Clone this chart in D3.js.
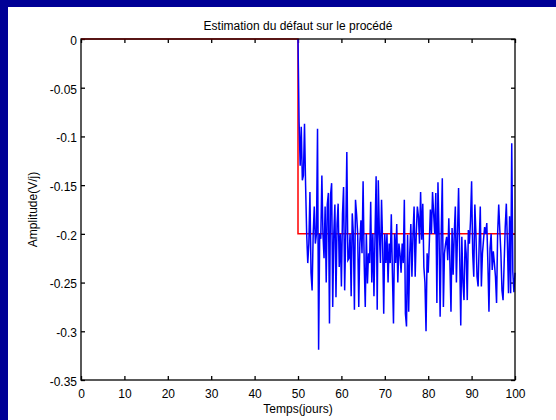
<!DOCTYPE html>
<html>
<head>
<meta charset="utf-8">
<script src="https://cdn.jsdelivr.net/npm/d3@7"></script>
<style>
  body { margin: 0; background: #000096; }
  text { font-family: "Liberation Sans", Arial, sans-serif; fill: #000; }
</style>
</head>
<body>
<div id="chart"></div>
<script>
// fault injected on the process (red)
const faultTimes = [0, 50, 50, 100];
const faultValues = [0, 0, -0.2, -0.2];

// estimated fault (blue): one value every 0.25 day from t=50 to t=100
const estStart = 50;
const estStep = 0.25;
const estValues = [
  0, -0.085, -0.13, -0.09, -0.145, -0.14, -0.087, -0.15, -0.2, -0.23,
  -0.21, -0.157, -0.24, -0.258, -0.2, -0.172, -0.21, -0.2, -0.092, -0.319,
  -0.2, -0.205, -0.14, -0.2, -0.225, -0.172, -0.25, -0.17, -0.158, -0.292,
  -0.16, -0.148, -0.275, -0.2, -0.17, -0.265, -0.19, -0.169, -0.234, -0.2,
  -0.254, -0.18, -0.152, -0.258, -0.2, -0.116, -0.227, -0.225, -0.2, -0.264,
  -0.179, -0.2, -0.278, -0.165, -0.18, -0.2, -0.275, -0.21, -0.186, -0.22,
  -0.146, -0.23, -0.275, -0.2, -0.251, -0.22, -0.23, -0.167, -0.25, -0.2,
  -0.264, -0.2, -0.141, -0.278, -0.145, -0.2, -0.23, -0.165, -0.21, -0.282,
  -0.2, -0.23, -0.2, -0.25, -0.21, -0.23, -0.18, -0.24, -0.292, -0.2,
  -0.23, -0.19, -0.25, -0.21, -0.22, -0.24, -0.21, -0.23, -0.165, -0.282,
  -0.295, -0.201, -0.28, -0.22, -0.19, -0.244, -0.2, -0.172, -0.244, -0.2,
  -0.172, -0.182, -0.21, -0.157, -0.206, -0.169, -0.234, -0.25, -0.3, -0.22,
  -0.24, -0.21, -0.175, -0.2, -0.157, -0.179, -0.2, -0.158, -0.271, -0.147,
  -0.2, -0.285, -0.2, -0.143, -0.275, -0.22, -0.21, -0.203, -0.227, -0.184,
  -0.23, -0.28, -0.194, -0.242, -0.2, -0.172, -0.25, -0.2, -0.153, -0.22,
  -0.294, -0.203, -0.25, -0.268, -0.206, -0.22, -0.268, -0.196, -0.21, -0.186,
  -0.146, -0.22, -0.244, -0.17, -0.2, -0.244, -0.254, -0.21, -0.172, -0.254,
  -0.22, -0.206, -0.193, -0.2, -0.189, -0.23, -0.28, -0.215, -0.2, -0.237,
  -0.218, -0.23, -0.244, -0.271, -0.2, -0.17, -0.196, -0.22, -0.258, -0.268,
  -0.23, -0.193, -0.169, -0.21, -0.261, -0.182, -0.261, -0.107, -0.239, -0.26,
  -0.24
];

const xTicks = [0, 10, 20, 30, 40, 50, 60, 70, 80, 90, 100];
const yTicks = [0, -0.05, -0.1, -0.15, -0.2, -0.25, -0.3, -0.35];

const width = 556;
const height = 420;
const plot = { left: 81, right: 515, top: 39, bottom: 380 };

const svg = d3.select('#chart').append('svg')
  .attr('width', width)
  .attr('height', height);

// white figure area inside the blue slide border
svg.append('rect')
  .attr('x', 8)
  .attr('y', 7)
  .attr('width', width - 8)
  .attr('height', height - 7)
  .style('fill', '#fff');

const xScale = d3.scaleLinear()
  .domain([0, 100])
  .range([plot.left, plot.right]);

const yScale = d3.scaleLinear()
  .domain([-0.35, 0])
  .range([plot.bottom, plot.top]);

const fmt = d => (d === 0 ? '0' : String(+d.toFixed(2)));

svg.append('g')
  .attr('transform', `translate(0,${plot.bottom})`)
  .call(d3.axisBottom(xScale).tickValues(xTicks).tickSizeInner(-4).tickSizeOuter(0).tickPadding(9));

svg.append('g')
  .attr('transform', `translate(0,${plot.top})`)
  .call(d3.axisTop(xScale).tickValues(xTicks).tickSizeInner(-4).tickSizeOuter(0).tickFormat(''));

const yAxis = svg.append('g')
  .attr('transform', `translate(${plot.left},0)`)
  .call(d3.axisLeft(yScale).tickValues(yTicks).tickSizeInner(-4).tickSizeOuter(0).tickPadding(4).tickFormat(fmt));

svg.append('g')
  .attr('transform', `translate(${plot.right},0)`)
  .call(d3.axisRight(yScale).tickValues(yTicks).tickSizeInner(-4).tickSizeOuter(0).tickFormat(''));

svg.selectAll('.domain').remove();
svg.selectAll('.tick line').style('stroke', '#000').style('stroke-width', 1.3);
svg.selectAll('.tick text')
  .style('font-size', '12px')
  .style('font-family', '"Liberation Sans", Arial, sans-serif')
  .style('fill', '#000');
yAxis.selectAll('.tick text').attr('dy', '0.45em');

const faultData = faultTimes.map((t, i) => ({ t, v: faultValues[i] }));
const estData = estValues.map((v, i) => ({ t: estStart + i * estStep, v }));

const line = d3.line()
  .x(d => xScale(d.t))
  .y(d => yScale(d.v));

svg.append('path')
  .datum(faultData)
  .attr('d', line)
  .style('fill', 'none')
  .style('stroke', '#ff0000')
  .style('stroke-width', 1.5);

svg.append('path')
  .datum(estData)
  .attr('d', line)
  .style('fill', 'none')
  .style('stroke', '#0000ff')
  .style('stroke-width', 1.5);

// axes box drawn over the curves
svg.append('rect')
  .attr('x', plot.left)
  .attr('y', plot.top)
  .attr('width', plot.right - plot.left)
  .attr('height', plot.bottom - plot.top)
  .style('fill', 'none')
  .style('stroke', '#000')
  .style('stroke-width', 1.3);

// title
svg.append('text')
  .attr('x', (plot.left + plot.right) / 2)
  .attr('y', 30)
  .style('text-anchor', 'middle')
  .style('font-size', '12px')
  .text('Estimation du défaut sur le procédé');

// x label
svg.append('text')
  .attr('x', (plot.left + plot.right) / 2)
  .attr('y', 413)
  .style('text-anchor', 'middle')
  .style('font-size', '12px')
  .text('Temps(jours)');

// y label
svg.append('text')
  .attr('transform', `translate(37,${(plot.top + plot.bottom) / 2}) rotate(-90)`)
  .style('text-anchor', 'middle')
  .style('font-size', '12px')
  .text('Amplitude(V/j)');
</script>
</body>
</html>
